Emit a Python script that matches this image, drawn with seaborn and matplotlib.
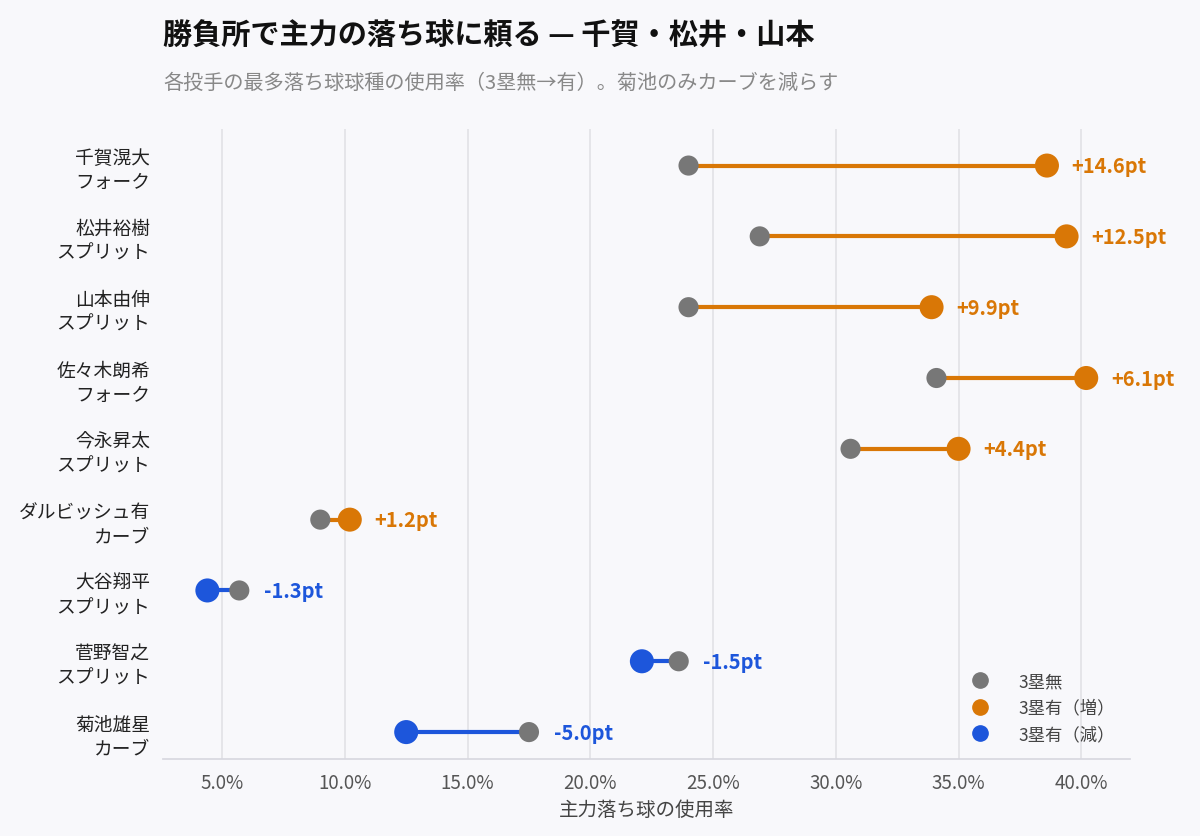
import matplotlib
matplotlib.use('Agg')
import matplotlib.pyplot as plt
import seaborn as sns
import pandas as pd
from matplotlib.ticker import FuncFormatter
from matplotlib.lines import Line2D

pitchers = ['千賀滉大\nフォーク', '松井裕樹\nスプリット', '山本由伸\nスプリット', '佐々木朗希\nフォーク',
            '今永昇太\nスプリット', 'ダルビッシュ有\nカーブ', '大谷翔平\nスプリット', '菅野智之\nスプリット',
            '菊池雄星\nカーブ']
no_runner = [24.0, 26.9, 24.0, 34.1, 30.6, 9.0, 5.7, 23.6, 17.5]
with_runner = [38.6, 39.4, 33.9, 40.2, 35.0, 10.2, 4.4, 22.1, 12.5]
diff_labels = ['+14.6pt', '+12.5pt', '+9.9pt', '+6.1pt', '+4.4pt', '+1.2pt', '-1.3pt', '-1.5pt', '-5.0pt']

GRAY, ORANGE, BLUE = '#777777', '#d97706', '#1d56db'
BG = '#f8f8fb'

sns.set_theme(style='whitegrid')
plt.rcParams['font.family'] = ['Noto Sans CJK JP', 'DejaVu Sans']

df = pd.DataFrame({'pitcher': pitchers, 'no': no_runner, 'yes': with_runner})
df['y'] = range(len(df))
df['up'] = df['yes'] >= df['no']

fig = plt.figure(figsize=(12, 8.37), dpi=100, facecolor=BG)
ax = fig.add_axes([0.136, 0.092, 0.806, 0.753], facecolor=BG)

for _, r in df.iterrows():
    c = ORANGE if r['up'] else BLUE
    ax.hlines(r['y'], r['no'], r['yes'], color=c, lw=3, zorder=1)

sns.scatterplot(data=df, x='no', y='y', color=GRAY, s=210, edgecolor='none', ax=ax, zorder=3)
sns.scatterplot(data=df, x='yes', y='y', hue='up', palette={True: ORANGE, False: BLUE},
                s=300, edgecolor='none', ax=ax, zorder=3, legend=False)

for _, r in df.iterrows():
    c = ORANGE if r['up'] else BLUE
    xr = max(r['no'], r['yes'])
    ax.text(xr + 1.0, r['y'], diff_labels[r['y']], color=c, fontsize=14.5,
            fontweight='bold', va='center', ha='left')

ax.set_xlim(2.6, 42.0)
ax.set_ylim(8.38, -0.52)
ax.set_yticks(df['y'])
ax.set_yticklabels(pitchers, fontsize=13.5, color='#222222', linespacing=1.2)
ax.set_xticks([5, 10, 15, 20, 25, 30, 35, 40])
ax.xaxis.set_major_formatter(FuncFormatter(lambda v, p: f'{v:.1f}%'))
ax.tick_params(axis='x', labelsize=13.5, colors='#555555')
ax.set_xlabel('主力落ち球の使用率', fontsize=14, color='#444444')
ax.set_ylabel('')
ax.grid(axis='y', visible=False)
ax.grid(axis='x', color='#e2e2e6', lw=1.2)
for s in ['top', 'right', 'left']:
    ax.spines[s].set_visible(False)
ax.spines['bottom'].set_color('#d8d8e0')

handles = [Line2D([], [], marker='o', ls='', color=GRAY, markersize=11),
           Line2D([], [], marker='o', ls='', color=ORANGE, markersize=11),
           Line2D([], [], marker='o', ls='', color=BLUE, markersize=11)]
ax.legend(handles, ['3塁無', '3塁有（増）', '3塁有（減）'], loc='lower right',
          frameon=False, fontsize=12.5, labelcolor='#444444', handletextpad=1.2,
          bbox_to_anchor=(1.0, 0.0))

fig.text(0.136, 0.957, '勝負所で主力の落ち球に頼る — 千賀・松井・山本', fontsize=21,
         fontweight='bold', color='#111111', va='center')
fig.text(0.136, 0.9, '各投手の最多落ち球球種の使用率（3塁無→有）。菊池のみカーブを減らす',
         fontsize=14.5, color='#888888', va='center')

fig.savefig('out.png', dpi=100, facecolor=BG)
